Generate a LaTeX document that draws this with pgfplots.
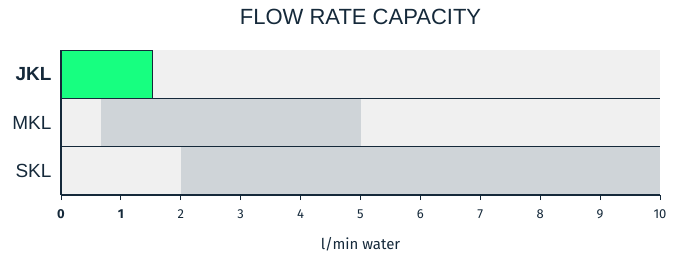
\documentclass[border=0pt]{standalone}
\usepackage{pgfplots}
\pgfplotsset{compat=1.18}
\usepackage{fontspec}
\setmainfont{Liberation Sans}
\newfontfamily\tickfont{Fira Sans}
\definecolor{navy}{HTML}{15293A}
\definecolor{bgrow}{HTML}{F0F0F0}
\definecolor{rng}{HTML}{CFD4D8}
\definecolor{grn}{HTML}{17FF80}
\begin{document}
\begin{tikzpicture}[x=1pt,y=1pt]
\path[use as bounding box] (0,0) rectangle (676,257);
\begin{axis}[
  at={(61pt,62pt)}, anchor=south west,
  scale only axis, width=599pt, height=145pt,
  xmin=0, xmax=10, ymin=-0.5, ymax=2.5,
  axis line style={draw=none},
  xtick={0,...,10},
  xtick pos=bottom,
  xticklabels={\textbf{0},\textbf{1},2,3,4,5,6,7,8,9,10},
  ytick={0,1,2},
  yticklabels={SKL,MKL,\textbf{JKL}},
  y tick label style={font=\fontsize{19}{19}\selectfont, text=navy, xshift=-1pt},
  x tick label style={font=\tickfont\fontsize{13}{13}\selectfont, text=navy, yshift=-6pt},
  tick align=outside,
  xtick style={draw=navy, line width=0.9pt},
  major tick length=5pt,
  ytick style={draw=none},
  xlabel={l/min water},
  xlabel style={font=\tickfont\fontsize{15}{15}\selectfont, text=navy, yshift=-12pt},
  title={FLOW RATE CAPACITY},
  title style={font=\fontsize{22}{22}\selectfont, text=navy, at={(0.5,1)}, anchor=base, yshift=20pt},
  clip=false,
]
% row backgrounds
\addplot[fill=bgrow, draw=none] coordinates {(0,-0.5) (10,-0.5) (10,2.5) (0,2.5)} --cycle;
% ranges
\addplot[fill=rng, draw=none] coordinates {(2,-0.5) (10,-0.5) (10,0.5) (2,0.5)} --cycle;
\addplot[fill=rng, draw=none] coordinates {(0.67,0.5) (5,0.5) (5,1.5) (0.67,1.5)} --cycle;
\addplot[fill=grn, draw=navy, line width=1pt] coordinates {(0,1.5) (1.52,1.5) (1.52,2.5) (0,2.5)} --cycle;
% separators
\addplot[navy, line width=1.3pt] coordinates {(0,1.5) (10,1.5)};
\addplot[navy, line width=1.3pt] coordinates {(0,0.5) (10,0.5)};
\addplot[navy, line width=1.3pt] coordinates {(0,-0.5) (10,-0.5)};
\addplot[navy, line width=1.3pt] coordinates {(0,-0.5) (0,2.5)};
\end{axis}
\end{tikzpicture}
\end{document}
